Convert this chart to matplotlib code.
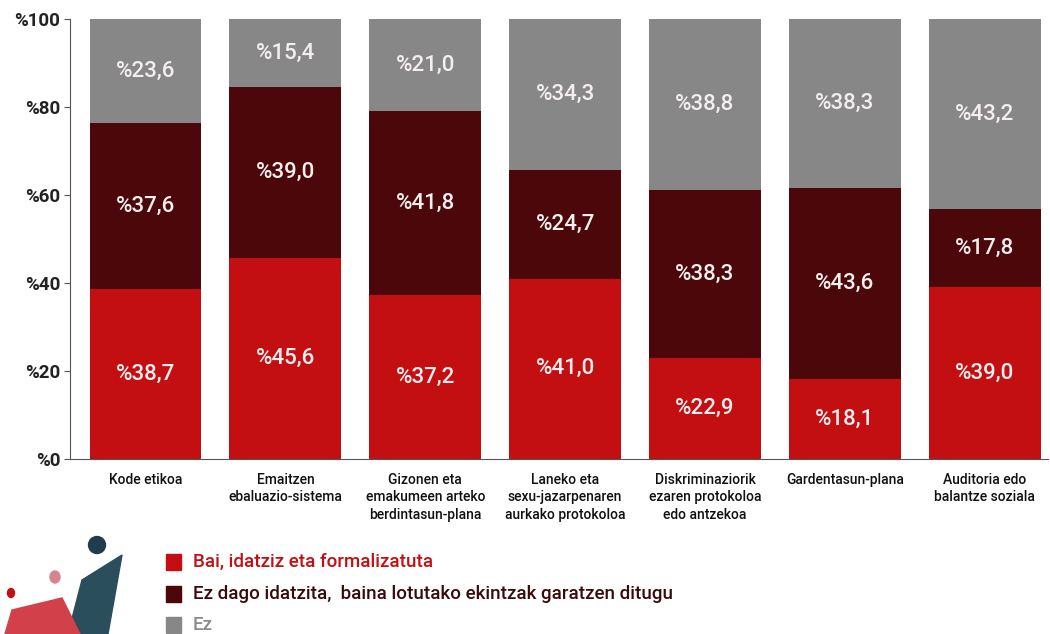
import matplotlib.pyplot as plt
import matplotlib.patches as mpatches
import numpy as np

plt.rcParams['font.family'] = ['Roboto', 'DejaVu Sans']

categories = ["Kode etikoa", "Emaitzen\nebaluazio-sistema", "Gizonen eta\nemakumeen arteko\nberdintasun-plana",
              "Laneko eta\nsexu-jazarpenaren\naurkako protokoloa", "Diskriminaziorik\nezaren protokoloa\nedo antzekoa",
              "Gardentasun-plana", "Auditoria edo\nbalantze soziala"]
bai = [38.7, 45.6, 37.2, 41.0, 22.9, 18.1, 39.0]
ez_dago = [37.6, 39.0, 41.8, 24.7, 38.3, 43.6, 17.8]
ez = [23.6, 15.4, 21.0, 34.3, 38.8, 38.3, 43.2]
series_names = ["Bai, idatziz eta formalizatuta",
                "Ez dago idatzita,  baina lotutako ekintzak garatzen ditugu",
                "Ez"]
colors = ["#c40f12", "#4b0709", "#878787"]
text_colors = ["#c40f12", "#3a0a0a", "#8a8a8a"]
yticks = [0, 20, 40, 60, 80, 100]

fig = plt.figure(figsize=(10.5, 6.34), dpi=100)
ax = fig.add_axes([0.0667, 0.276, 0.931, 0.694])

x = np.arange(len(categories))
bottom = np.zeros(len(categories))
for vals, c in zip([bai, ez_dago, ez], colors):
    ax.bar(x, vals, width=0.8, bottom=bottom, color=c)
    for xi, b, v in zip(x, bottom, vals):
        ax.text(xi, b + v / 2, "%" + f"{v:.1f}".replace(".", ","), ha="center", va="center",
                color="#f4eeee", fontsize=16, fontweight="medium")
    bottom += np.array(vals)

ax.set_xlim(-0.54, 6.45)
ax.set_ylim(0, 100)
ax.set_yticks(yticks)
ax.set_yticklabels(["%" + str(t) for t in yticks], fontsize=13.5, fontweight="bold", color="#222222")
ax.set_xticks(x)
ax.set_xticklabels(categories, fontsize=10, color="#111111", linespacing=1.3, va="top",
                   fontweight="medium")
ax.tick_params(axis="x", length=0, pad=10)
ax.tick_params(axis="y", length=4, color="#555555", pad=3)
for s in ["top", "right"]:
    ax.spines[s].set_visible(False)
ax.spines["left"].set_color("#555555")
ax.spines["bottom"].set_color("#555555")

# legend
leg_y = [562, 594, 625]
for name, c, tc, yy in zip(series_names, colors, text_colors, leg_y):
    fy = 1 - yy / 634
    fig.patches.append(mpatches.Rectangle((166 / 1050, fy - 8 / 634), 15 / 1050, 16 / 634,
                                          transform=fig.transFigure, color=c))
    fig.text(193 / 1050, fy, name, fontsize=13.5, color=tc, va="center", ha="left", fontweight="medium")

# logo-like decoration
def px_ellipse(cx, cy, w, h, color):
    fig.patches.append(mpatches.Ellipse((cx / 1050, 1 - cy / 634), w / 1050, h / 634,
                                        transform=fig.transFigure, color=color))

fig.patches.append(mpatches.Polygon([(122 / 1050, 1 - 555 / 634), (82 / 1050, 1 - 580 / 634),
                                     (68 / 1050, 1 - 634 / 634), (108 / 1050, 1 - 634 / 634)],
                                    closed=True, transform=fig.transFigure, color="#2b4e5c"))
fig.patches.append(mpatches.Polygon([(12 / 1050, 1 - 610 / 634), (62 / 1050, 1 - 598 / 634),
                                     (80 / 1050, 1 - 634 / 634), (5 / 1050, 1 - 634 / 634)],
                                    closed=True, transform=fig.transFigure, color="#d2404a"))
px_ellipse(97, 545, 17, 17, "#1f3d4d")
px_ellipse(55, 577, 10, 12, "#d9848c")
px_ellipse(11, 593, 7, 9, "#c40f12")

fig.savefig("out.png", dpi=100)
